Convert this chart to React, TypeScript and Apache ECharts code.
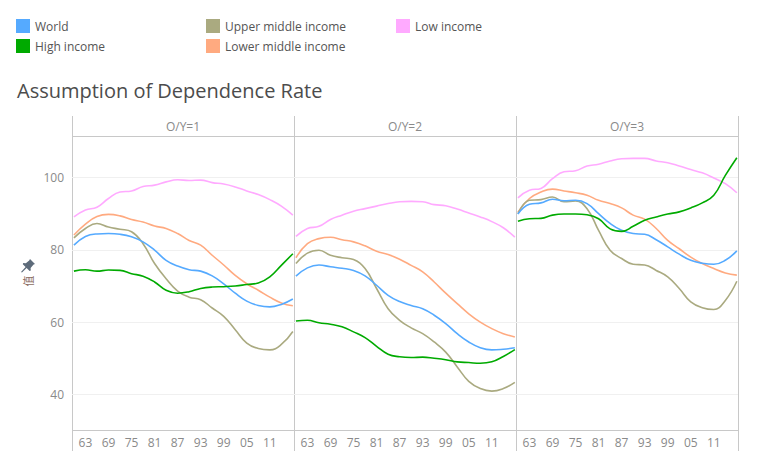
import React, { useEffect, useRef } from "react";
import * as echarts from "echarts";

const years = [1960,1963,1966,1969,1972,1975,1978,1981,1984,1987,1990,1993,1996,1999,2002,2005,2008,2011,2014,2017];
const xTicks = [1963,1969,1975,1981,1987,1993,1999,2005,2011];
const yTicks = [40,60,80,100];
const panels = ["O/Y=1","O/Y=2","O/Y=3"];
const names = ["Low income","Lower middle income","Upper middle income","World","High income"];
const colors = ["#ffaaff","#ffaa80","#aaaa80","#55aaff","#00aa00"];

const low1 = [89.1,91.0,91.8,94.2,96.0,96.3,97.5,97.9,98.8,99.4,99.2,99.3,98.6,98.2,97.4,96.3,95.3,93.9,92.1,89.6];
const lower1 = [84.1,87.1,89.2,89.8,89.4,88.4,87.7,86.6,85.9,84.5,82.6,81.3,78.5,75.8,72.9,70.6,68.8,66.9,65.3,64.5];
const upper1 = [83.3,85.9,87.3,86.3,85.7,85.0,81.7,76.2,72.0,68.6,66.9,66.2,63.9,61.6,57.9,54.2,52.7,52.3,53.8,57.4];
const world1 = [81.3,83.7,84.4,84.5,84.3,83.6,82.2,79.9,77.1,75.5,74.5,74.1,72.8,70.6,68.0,65.8,64.6,64.2,64.9,66.4];
const high1 = [74.1,74.5,74.1,74.4,74.3,73.4,72.7,71.1,68.8,68.0,68.4,69.3,69.7,69.8,70.0,70.4,70.8,72.5,75.7,78.9];

const low2 = [83.7,85.9,86.5,88.4,89.6,90.7,91.4,92.1,92.8,93.3,93.4,93.3,92.5,92.2,91.3,90.2,89.1,87.8,86.1,83.5];
const lower2 = [77.8,81.7,83.1,83.5,82.8,82.2,81.1,79.6,78.7,77.4,75.7,73.9,71.1,68.0,65.1,62.3,60.0,58.2,56.8,55.9];
const upper2 = [76.2,79.1,79.9,78.5,77.8,77.3,74.8,69.3,63.7,60.5,58.4,56.8,54.5,51.7,47.6,43.6,41.6,40.9,41.6,43.3];
const world2 = [72.7,75.0,75.8,75.3,74.9,74.3,72.8,70.2,67.4,65.7,64.6,63.7,61.9,59.6,56.8,54.5,52.9,52.3,52.5,52.9];
const high2 = [60.3,60.5,59.8,59.4,58.7,57.3,55.7,53.3,51.1,50.4,50.2,50.3,50.0,49.6,49.0,48.8,48.6,49.0,50.5,52.4];

const low3 = [94.4,96.5,97.0,99.7,101.6,101.9,103.2,103.7,104.6,105.2,105.3,105.3,104.6,104.1,103.2,102.2,101.3,99.9,98.3,95.8];
const lower3 = [90.4,94.2,96.0,96.8,96.3,95.8,95.1,93.7,92.8,91.6,89.6,88.5,85.9,82.6,80.3,78.0,76.2,74.8,73.6,73.0];
const upper3 = [90.0,93.7,93.9,94.6,93.3,93.5,91.4,85.4,79.9,77.6,76.0,75.8,74.3,72.5,69.3,65.6,64.0,63.5,66.0,71.3];
const world3 = [89.9,92.6,93.0,94.0,93.6,93.7,92.8,90.0,87.3,85.4,84.5,84.3,82.8,80.8,78.8,77.1,76.3,76.0,77.1,79.7];
const high3 = [87.9,88.6,88.7,89.6,89.9,89.9,89.7,88.6,85.8,85.1,86.5,88.2,89.1,89.9,90.5,91.6,93.0,95.1,100.6,105.5];

const panelData = [
  [low1, lower1, upper1, world1, high1],
  [low2, lower2, upper2, world2, high2],
  [low3, lower3, upper3, world3, high3],
];

const FONT = "'Open Sans'";
const PIN = "M9 0 L14 5 L12.6 5.6 L9.6 9 L9.8 11.6 L8.6 12 L5.6 9 L1 13.4 L0 13 L4.6 8 L1.8 5.2 L2.2 4 L4.8 4.2 L8.2 1.4 Z";

export default function App() {
  const ref = useRef<HTMLDivElement>(null);
  useEffect(() => {
    echarts.graphic.registerShape("pin", echarts.graphic.extendPath(PIN as any, {}) as any);
    const chart = echarts.init(ref.current!, undefined, { renderer: "svg" });
    const panelW = 222;
    const left0 = 72;
    const top = 136;
    const bottom = 430.5;
    const lineColor = "#c8c8c8";
    const grids = panels.map((_, i) => ({ left: left0 + i * panelW, top, width: panelW, height: bottom - top }));
    const xAxes = panels.map((_, i) => ({
      type: "value", gridIndex: i, min: 1959.5, max: 2017.3,
      axisLine: { show: false }, splitLine: { show: false },
      axisTick: { show: false, customValues: xTicks },
      axisLabel: {
        customValues: xTicks, color: "#8a8a8a", fontSize: 12, fontFamily: FONT, margin: 6,
        formatter: (v: number) => String(v).slice(2),
      },
    }));
    const yAxes = panels.map((_, i) => ({
      type: "value", gridIndex: i, min: 30, max: 111.5,
      axisLine: { show: false },
      axisTick: { show: false, customValues: yTicks },
      splitLine: { show: true, lineStyle: { color: "#f0f0f0", width: 1 } },
      axisLabel: {
        show: i === 0, customValues: yTicks, color: "#8a8a8a", fontSize: 12, fontFamily: FONT, margin: 8,
      },
    }));
    const series: any[] = [];
    panels.forEach((_, p) => {
      names.forEach((name, s) => {
        series.push({
          type: "line", name, xAxisIndex: p, yAxisIndex: p, showSymbol: false, symbol: "none",
          smooth: 0.45, lineStyle: { color: colors[s], width: 1.6 }, itemStyle: { color: colors[s] },
          data: years.map((y, k) => [y, panelData[p][s][k]]),
        });
      });
    });
    const legendBase = {
      orient: "vertical", itemWidth: 14, itemHeight: 14, itemGap: 6, icon: "rect", selectedMode: false,
      padding: 0, textStyle: { color: "#555555", fontSize: 12, fontFamily: FONT, padding: [0, 0, 0, 0] },
    };
    const vLines = [0, 1, 2, 3].map((i) => ({
      type: "line", silent: true,
      shape: { x1: left0 + i * panelW + 0.5, y1: 116, x2: left0 + i * panelW + 0.5, y2: 451 },
      style: { stroke: lineColor, lineWidth: 1 },
    }));
    const hLines = [136.5, 430.5].map((y) => ({
      type: "line", silent: true,
      shape: { x1: left0, y1: y, x2: left0 + 3 * panelW, y2: y },
      style: { stroke: lineColor, lineWidth: 1 },
    }));
    const headers = panels.map((t, i) => ({
      type: "text", x: left0 + i * panelW + panelW / 2, y: 126,
      style: { text: t, fill: "#8a8a8a", font: `12px ${FONT}`, align: "center", verticalAlign: "middle" },
    }));
    chart.setOption({
      animation: false,
      backgroundColor: "#ffffff",
      title: {
        text: "Assumption of Dependence Rate", left: 17, top: 80, padding: 0,
        textStyle: { color: "#4c4c4c", fontSize: 20, fontWeight: "normal", fontFamily: FONT },
      },
      legend: [
        { ...legendBase, left: 16, top: 19, data: ["World", "High income"] },
        { ...legendBase, left: 206, top: 19, data: ["Upper middle income", "Lower middle income"] },
        { ...legendBase, left: 396, top: 19, data: ["Low income"] },
      ],
      grid: grids,
      xAxis: xAxes,
      yAxis: yAxes,
      series,
      graphic: [
        ...vLines, ...hLines, ...headers,
        { type: "pin", x: 21, y: 259, style: { fill: "#5d6b7a" } },
        { type: "text", x: 28, y: 281, rotation: Math.PI / 2,
          style: { text: "值", fill: "#8a6d62", font: "11px 'Noto Sans CJK SC'", align: "center", verticalAlign: "middle" } },
      ],
    } as any);
    return () => chart.dispose();
  }, []);
  return <div ref={ref} style={{ position: "absolute", left: 0, top: 0, width: 759, height: 469 }} />;
}
